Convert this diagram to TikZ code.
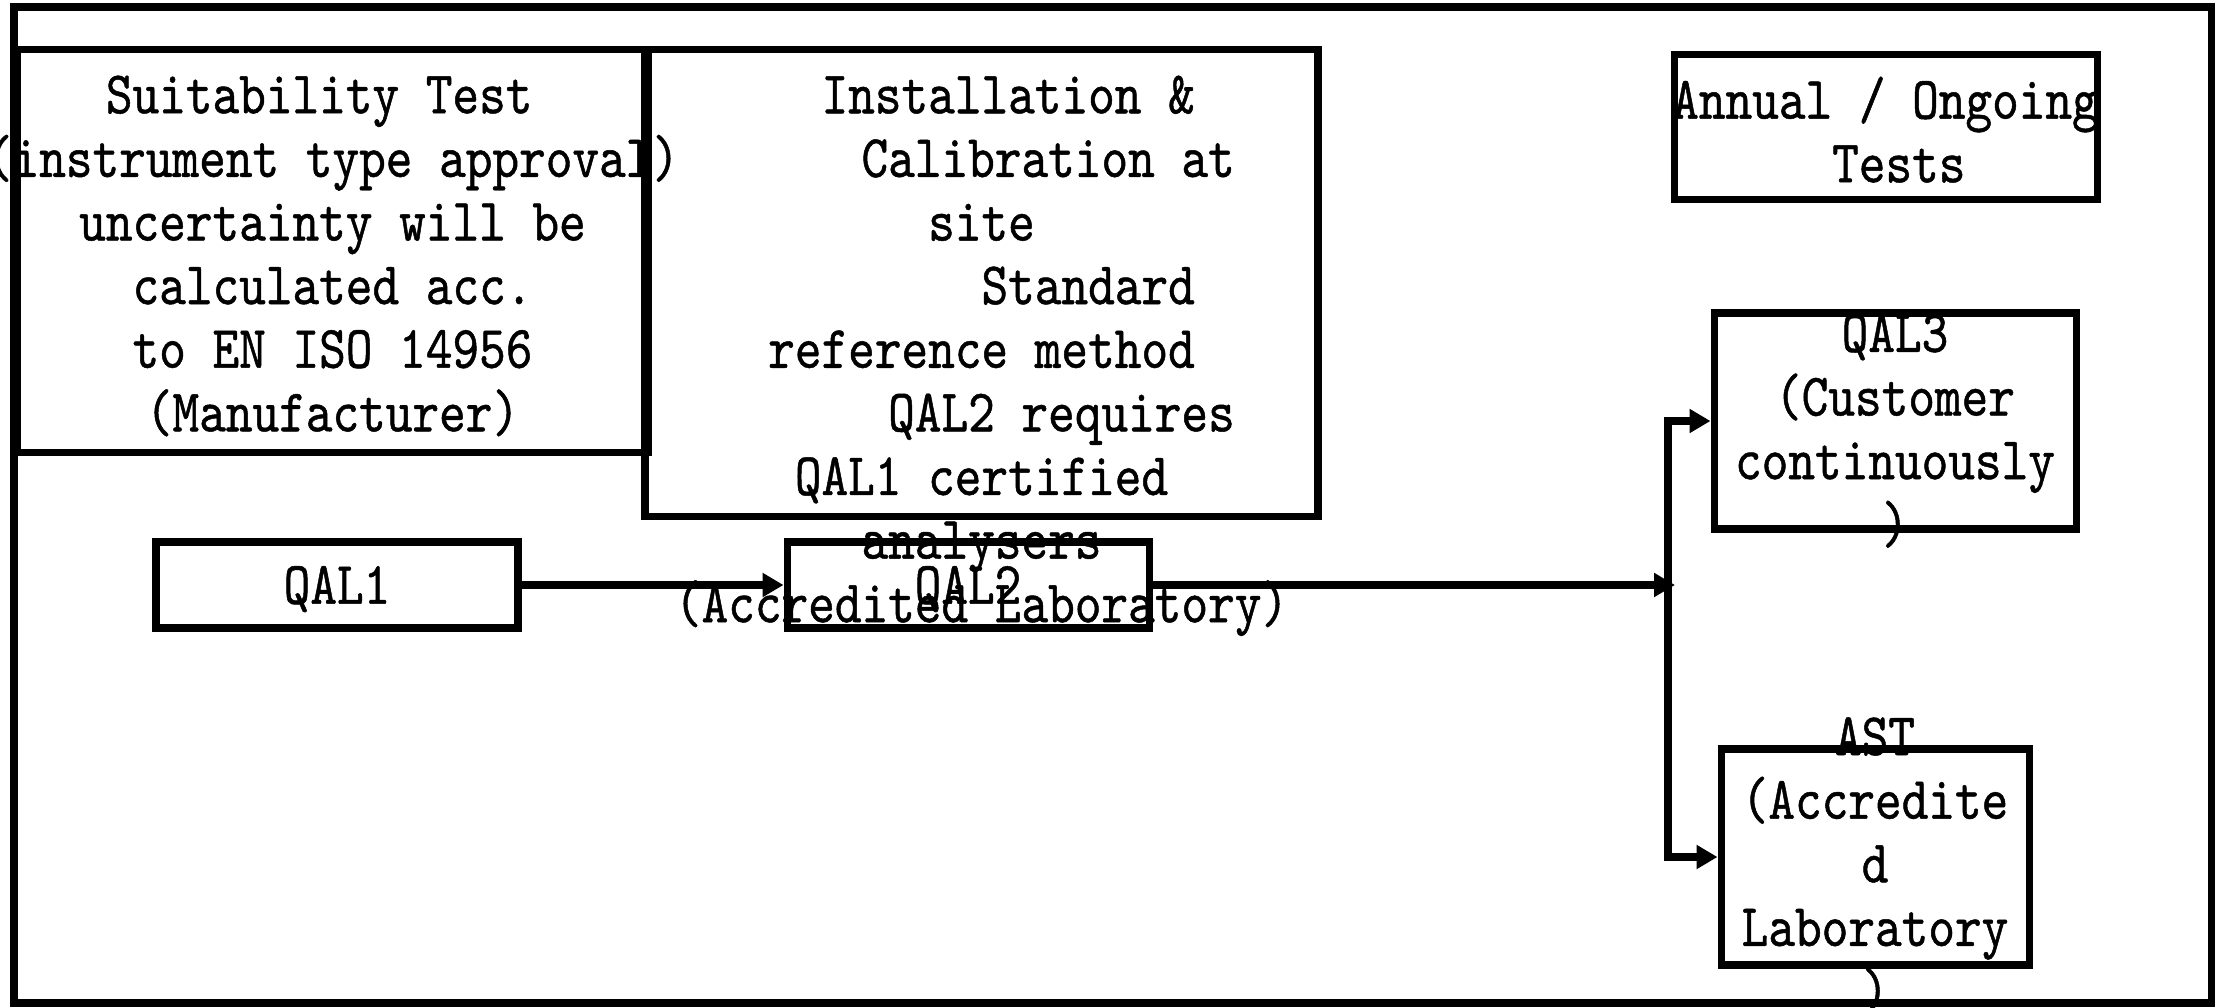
\documentclass[tikz,border=0pt]{standalone}
\usepackage{fontspec}
\usepackage{tikz}
\usetikzlibrary{
  arrows.meta,
  positioning
}
\newfontfamily\qalfont{lmmono10-regular.otf}[FakeStretch=0.84,FakeBold=0.8]
\tikzset{
  box/.style={draw,line width=2pt,inner sep=0pt},
  frame/.style={draw,line width=2pt},
  lbl/.style={align=center,inner sep=0pt,font=\qalfont\fontsize{17.2}{18.1}\selectfont,execute at begin node=\strut,execute at end node=\strut,yshift=-1.2mm},
  flow/.style={-{Triangle[length=2.1mm,width=2.3mm]},line width=2pt},
  flowboth/.style={{Triangle[length=2.1mm,width=2.3mm]}-{Triangle[length=2.1mm,width=2.3mm]},line width=2pt}
}

\begin{document}
\begin{tikzpicture}
\useasboundingbox (0,0) rectangle (22.19,-10.07);
\draw[frame] (0.14,-0.07) rectangle (22.11,-10.03);

% boxes
\node[box, minimum width=6.31cm, minimum height=4.035cm] (suit) at (3.325,-2.51) {};
\node[box, minimum width=6.73cm, minimum height=4.67cm] (inst) at (9.815,-2.83) {};
\node[box, minimum width=4.23cm, minimum height=1.445cm] (annual) at (18.855,-1.27) {};
\node[box, minimum width=3.62cm, minimum height=2.16cm] (qal3) at (18.95,-4.21) {};
\node[box, minimum width=3.08cm, minimum height=2.16cm] (ast) at (18.75,-8.57) {};
\node[box, minimum width=3.62cm, minimum height=0.86cm] (qal1) at (3.37,-5.85) {};
\node[box, minimum width=3.62cm, minimum height=0.86cm, right=2.62cm of qal1] (qal2) {};

% texts
\node[lbl] (suit-t) at (suit) {Suitability Test\phantom{x}\\(instrument type approval)\\uncertainty will be\\calculated acc.\\to EN ISO 14956\\(Manufacturer)};
\node[lbl, below=1.7mm of inst.north] (inst-t) {\phantom{xx}Installation \&\\\phantom{xxxxx}Calibration at\\site\\\phantom{xxxxxxxx}Standard\\reference method\\\phantom{xxxxxx}QAL2 requires\\QAL1 certified\\analysers\\(Accredited Laboratory)};
\node[lbl] (annual-t) at (annual) {Annual / Ongoing\\\phantom{x}Tests};
\node[lbl, yshift=-0.5mm] (qal3-t) at (qal3) {QAL3\\(Customer\\continuously\\)};
\node[lbl, yshift=-0.4mm] (ast-t) at (ast) {AST\\(Accredite\\d\\Laboratory\\)};
\node[lbl, yshift=0.6mm] (qal1-t) at (qal1) {QAL1};
\node[lbl, yshift=0.6mm] (qal2-t) at (qal2) {QAL2};

% connectors
\coordinate (jm) at (16.68,-5.85);
\draw[flow] (qal1) -- (qal2);
\draw[flow, shorten >=-0.7mm] (qal2) -- (jm);
\draw[flowboth] (qal3.west) -| (jm) |- (ast.west);
\end{tikzpicture}
\end{document}
